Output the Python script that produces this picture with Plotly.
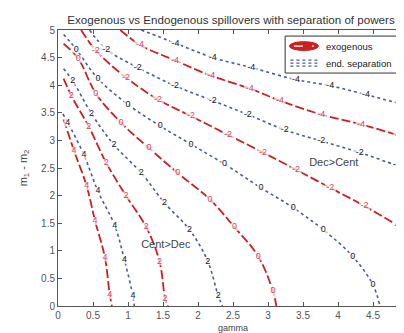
import plotly.graph_objects as go

# ---- data (gamma, m1-m2) ----
exo_p4_g = [0.08, 0.23, 0.41, 0.53, 0.67, 0.74, 0.77]
exo_p4_m = [3.38, 2.81, 2.17, 1.54, 0.88, 0.20, 0.0]
exo_p2_g = [0.08, 0.19, 0.44, 0.69, 0.97, 1.26, 1.45, 1.53, 1.57]
exo_p2_m = [4.12, 3.81, 3.25, 2.59, 2.00, 1.43, 0.81, 0.14, 0.0]
exo_0_g = [0.08, 0.29, 0.54, 0.90, 1.30, 1.71, 2.17, 2.52, 2.86, 3.07, 3.12]
exo_0_m = [4.75, 4.48, 3.85, 3.32, 2.86, 2.41, 1.93, 1.43, 0.90, 0.27, 0.0]
exo_m2_g = [0.33, 0.54, 0.97, 1.43, 1.90, 2.43, 2.93, 3.40, 3.89, 4.38, 4.86, 5.0]
exo_m2_m = [5.0, 4.63, 4.14, 3.74, 3.44, 3.10, 2.78, 2.47, 2.14, 1.81, 1.45, 1.33]
exo_m4_g = [0.89, 1.17, 1.67, 2.19, 2.74, 3.17, 3.76, 4.33, 4.89, 5.0]
exo_m4_m = [5.0, 4.73, 4.45, 4.17, 3.94, 3.72, 3.47, 3.29, 3.08, 3.03]

end_p4_g = [0.07, 0.14, 0.37, 0.57, 0.81, 0.95, 1.07, 1.09]
end_p4_m = [3.48, 3.32, 2.74, 2.08, 1.46, 0.83, 0.18, 0.0]
end_p2_g = [0.08, 0.21, 0.48, 0.80, 1.19, 1.52, 1.88, 2.14, 2.29, 2.35]
end_p2_m = [4.30, 4.08, 3.48, 2.92, 2.41, 1.87, 1.38, 0.81, 0.18, 0.0]
end_0_g = [0.08, 0.26, 0.57, 1.00, 1.46, 1.90, 2.38, 2.90, 3.36, 3.79, 4.21, 4.50, 4.60]
end_0_m = [4.92, 4.65, 4.12, 3.65, 3.26, 2.93, 2.57, 2.14, 1.78, 1.38, 0.90, 0.38, 0.0]
end_m2_g = [0.45, 0.69, 1.14, 1.67, 2.21, 2.71, 3.24, 3.76, 4.31, 4.84, 5.0]
end_m2_m = [5.0, 4.65, 4.32, 3.99, 3.72, 3.47, 3.19, 2.99, 2.78, 2.55, 2.50]
end_m4_g = [1.19, 1.68, 2.21, 2.76, 3.40, 3.89, 4.40, 4.93, 5.0]
end_m4_m = [5.0, 4.76, 4.50, 4.32, 4.10, 3.99, 3.83, 3.65, 3.63]

# contour labels (position and text)
exo_lab_g = [0.23, 0.41, 0.53, 0.67, 0.74,
             0.19, 0.44, 0.69, 0.97, 1.26, 1.45, 1.53,
             0.29, 0.54, 0.90, 1.30, 1.71, 2.17, 2.52, 2.86, 3.07,
             0.54, 0.97, 1.43, 1.90, 2.43, 2.93, 3.40, 3.89, 4.38, 4.86,
             1.17, 1.67, 2.19, 2.74, 3.17, 3.76, 4.33, 4.87]
exo_lab_m = [2.81, 2.17, 1.54, 0.88, 0.20,
             3.81, 3.25, 2.59, 2.00, 1.43, 0.81, 0.14,
             4.48, 3.85, 3.32, 2.86, 2.41, 1.93, 1.43, 0.90, 0.27,
             4.63, 4.14, 3.74, 3.44, 3.10, 2.78, 2.47, 2.14, 1.81, 1.45,
             4.73, 4.45, 4.17, 3.94, 3.72, 3.47, 3.29, 3.09]
exo_lab_t = ["4"] * 5 + ["2"] * 7 + ["0"] * 9 + ["-2"] * 10 + ["-4"] * 8

end_lab_g = [0.14, 0.37, 0.57, 0.81, 0.95, 1.07,
             0.21, 0.48, 0.80, 1.19, 1.52, 1.88, 2.14, 2.29,
             0.26, 0.57, 1.00, 1.46, 1.90, 2.38, 2.90, 3.36, 3.79, 4.21, 4.50,
             0.69, 1.14, 1.67, 2.21, 2.71, 3.24, 3.76, 4.31, 4.84,
             1.68, 2.21, 2.76, 3.40, 3.89, 4.40, 4.90]
end_lab_m = [3.32, 2.74, 2.08, 1.46, 0.83, 0.18,
             4.08, 3.48, 2.92, 2.41, 1.87, 1.38, 0.81, 0.18,
             4.65, 4.12, 3.65, 3.26, 2.93, 2.57, 2.14, 1.78, 1.38, 0.90, 0.38,
             4.65, 4.32, 3.99, 3.72, 3.47, 3.19, 2.99, 2.78, 2.55,
             4.76, 4.50, 4.32, 4.10, 3.99, 3.83, 3.66]
end_lab_t = ["4"] * 6 + ["2"] * 8 + ["0"] * 11 + ["-2"] * 9 + ["-4"] * 7

region_g = [1.54, 3.94]
region_m = [1.10, 2.59]
region_t = ["Cent>Dec", "Dec>Cent"]

legend_names = ["exogenous", "end. separation"]

x_ticks = [0, 0.5, 1, 1.5, 2, 2.5, 3, 3.5, 4, 4.5, 5]
y_ticks = [0, 0.5, 1, 1.5, 2, 2.5, 3, 3.5, 4, 4.5, 5]

RED = "#cc2020"
RED_LAB = "#d8465e"
BLUE = "#4a5c96"
FONT = "Liberation Sans, Arial, sans-serif"

fig = go.Figure()

exo_lines = [(exo_p4_g, exo_p4_m), (exo_p2_g, exo_p2_m), (exo_0_g, exo_0_m),
             (exo_m2_g, exo_m2_m), (exo_m4_g, exo_m4_m)]
end_lines = [(end_p4_g, end_p4_m), (end_p2_g, end_p2_m), (end_0_g, end_0_m),
             (end_m2_g, end_m2_m), (end_m4_g, end_m4_m)]

for g, m in exo_lines:
    fig.add_trace(go.Scatter(x=g, y=m, mode="lines", line_shape="spline",
                             line=dict(color=RED, width=1.8, dash="9px,3px"),
                             showlegend=False, hoverinfo="skip"))
for g, m in end_lines:
    fig.add_trace(go.Scatter(x=g, y=m, mode="lines", line_shape="spline",
                             line=dict(color=BLUE, width=1.6, dash="dot"),
                             showlegend=False, hoverinfo="skip"))

fig.add_trace(go.Scatter(x=exo_lab_g, y=exo_lab_m, text=exo_lab_t,
                         mode="markers+text", textposition="middle center",
                         marker=dict(symbol="square", color="white",
                                     size=[7 if len(t) == 1 else 10 for t in exo_lab_t]),
                         textfont=dict(color=RED_LAB, size=9, family=FONT),
                         showlegend=False, hoverinfo="skip"))
fig.add_trace(go.Scatter(x=end_lab_g, y=end_lab_m, text=end_lab_t,
                         mode="markers+text", textposition="middle center",
                         marker=dict(symbol="square", color="white",
                                     size=[7 if len(t) == 1 else 10 for t in end_lab_t]),
                         textfont=dict(color="#222222", size=9, family=FONT),
                         showlegend=False, hoverinfo="skip"))
fig.add_trace(go.Scatter(x=region_g, y=region_m, text=region_t, mode="text",
                         textfont=dict(color="#444444", size=11, family=FONT),
                         showlegend=False, hoverinfo="skip"))

# ---- legend box drawn in paper coordinates ----
L, R, T, B = 0.649, 0.994, 0.978, 0.844
fig.add_shape(type="rect", xref="paper", yref="paper", x0=L, x1=R, y0=B, y1=T,
              line=dict(color="#333333", width=1), fillcolor="white", layer="above")
row_y = [T - (T - B) * 0.27, T - (T - B) * 0.73]
# red blob symbol
fig.add_shape(type="circle", xref="paper", yref="paper",
              x0=L + 0.012, x1=L + 0.095, y0=row_y[0] - 0.016, y1=row_y[0] + 0.016,
              fillcolor=RED, line=dict(color=RED, width=1), layer="above")
fig.add_shape(type="line", xref="paper", yref="paper",
              x0=L + 0.025, x1=L + 0.082, y0=row_y[0], y1=row_y[0],
              line=dict(color="white", width=1.2, dash="dash"), layer="above")
# blue dotted blob symbol
for k in range(3):
    dy = (k - 1) * 0.011
    fig.add_shape(type="line", xref="paper", yref="paper",
                  x0=L + 0.015, x1=L + 0.092, y0=row_y[1] + dy, y1=row_y[1] + dy,
                  line=dict(color=BLUE, width=1.3, dash="dot"), layer="above")
for name, yy in zip(legend_names, row_y):
    fig.add_annotation(x=L + 0.112, y=yy, xref="paper", yref="paper", text=name,
                       showarrow=False, xanchor="left", yanchor="middle",
                       font=dict(size=9.5, color="#222222", family=FONT))

axis_common = dict(range=[0, 5], showgrid=False, zeroline=False,
                   showline=True, mirror="ticks", linecolor="#555555", linewidth=1,
                   ticks="inside", ticklen=4, tickcolor="#555555",
                   tickfont=dict(size=10, color="#555555", family=FONT))
fig.update_xaxes(tickvals=x_ticks, ticktext=[f"{v:g}" for v in x_ticks],
                 title=dict(text="gamma", font=dict(size=9, color="#444444", family=FONT),
                            standoff=4),
                 **axis_common)
fig.update_yaxes(tickvals=y_ticks, ticktext=[f"{v:g}" for v in y_ticks],
                 title=dict(text="m<sub>1</sub> - m<sub>2</sub>",
                            font=dict(size=11, color="#444444", family=FONT),
                            standoff=11),
                 **axis_common)

fig.update_layout(
    width=404, height=333,
    margin=dict(l=50, r=4, t=22, b=35, autoexpand=False),
    paper_bgcolor="white", plot_bgcolor="white",
    title=dict(text="Exogenous vs Endogenous spillovers with separation of powers",
               x=223 / 404, xref="container", xanchor="center",
               y=1 - 12 / 333, yanchor="middle",
               font=dict(size=11.6, color="#333333", family=FONT)),
    showlegend=False,
)

fig.write_html("out.html")
